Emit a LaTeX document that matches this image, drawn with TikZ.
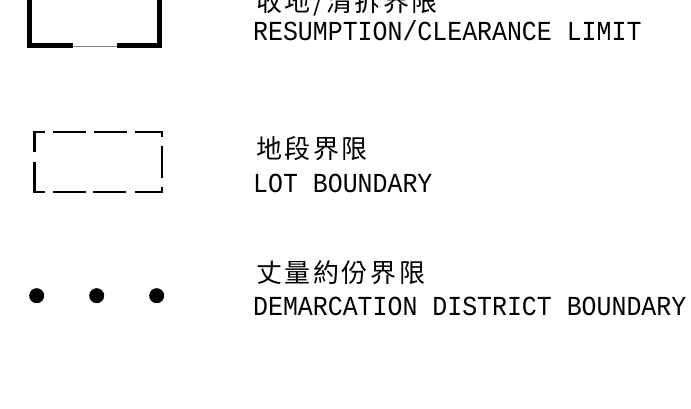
\documentclass[tikz,border=0pt]{standalone}
\usepackage{fontspec}
\newfontfamily\cadfont[FakeStretch=0.905]{Liberation Mono}
\newfontfamily\cjk[LetterSpace=10]{Noto Sans CJK TC}
\usepackage{tikz}
\usetikzlibrary{positioning}

\begin{document}
\begin{tikzpicture}[x=1pt,y=-1pt,
	en/.style={anchor=base west,inner sep=0pt,font=\cadfont\fontsize{27.5}{27.5}\selectfont},
	zh/.style={anchor=base west,inner sep=0pt,font=\cjk\fontsize{26}{26}\selectfont},
	dick/.style={line width=5pt,line join=miter},
	strich/.style={line width=2.6pt,line join=miter}]
		\useasboundingbox (0,0) rectangle (691,409);
		\clip (0,0) rectangle (691,409);
		
		% Grenze Rueckgabe/Raeumung
		\draw[dick] (29.5,-10) -- (29.5,46) -- (73,46);
		\draw[dick] (117,46) -- (159.5,46) -- (159.5,-10);
		\draw[gray,line width=.8pt] (73,46.5) -- (117,46.5);
		
		% Grundstuecksgrenze
		\draw[strich] (34.7,151.7) -- (34.7,132) -- (45,132);
		\draw[strich] (53.3,132) -- (86,132);
		\draw[strich] (94,132) -- (127,132);
		\draw[strich] (135,132) -- (162,132) -- (162,137);
		\draw[strich] (162,146) -- (162,178);
		\draw[strich] (162,186.7) -- (162,192) -- (135,192);
		\draw[strich] (126,192) -- (93,192);
		\draw[strich] (86,192) -- (53.3,192);
		\draw[strich] (45,192) -- (34.7,192) -- (34.7,161.7);
		
		% Punkte
		\fill (36.7,295.7) circle (7.5);
		\fill (96.7,295.7) circle (7.5);
		\fill (156.7,295.7) circle (7.5);
		
		% Beschriftungen
		\node[zh] (zhA) at (256,12) {收地/清拆界限};
		\node[en] (enA) at (253,41) {RESUMPTION/CLEARANCE LIMIT};
		\node[zh] (zhB) at (256,158.5) {地段界限};
		\node[en] (enB) at (253,193) {LOT BOUNDARY};
		\node[zh] (zhC) at (256,282) {丈量約份界限};
		\node[en] (enC) at (253,315) {DEMARCATION DISTRICT BOUNDARY};
	\end{tikzpicture}
\end{document}
